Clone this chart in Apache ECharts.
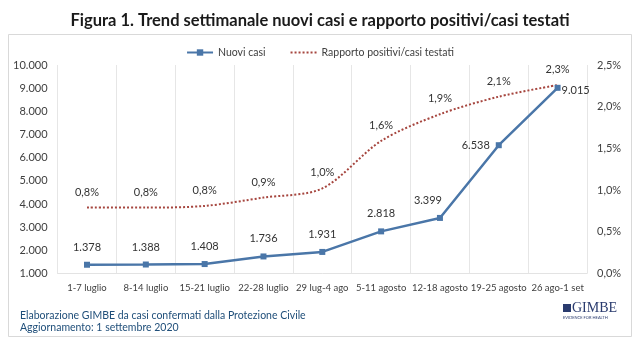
<!DOCTYPE html>
<html>
<head>
<meta charset="utf-8">
<script src="https://cdn.jsdelivr.net/npm/echarts@6/dist/echarts.min.js"></script>
<style>html,body{margin:0;padding:0;background:#fff;}#c{width:640px;height:360px;}</style>
</head>
<body>
<div id="c"></div>
<script>
var categories = ['1-7 luglio','8-14 luglio','15-21 luglio','22-28 luglio','29 lug-4 ago','5-11 agosto','12-18 agosto','19-25 agosto','26 ago-1 set'];
var nuoviCasi = [1378,1388,1408,1736,1931,2818,3399,6538,9015];
var rapporto = [0.79,0.79,0.81,0.91,1.02,1.59,1.91,2.12,2.26];
var leftTicks = [1000,10000,1000];
var rightTicks = [0,2.5,0.5];

var FONT = 'Lato, "Open Sans", sans-serif';
function itNum(v){ return String(v).replace(/\B(?=(\d{3})+(?!\d))/g,'.'); }
function pct(v){ return v.toFixed(1).replace('.',',') + '%'; }

var casiData = nuoviCasi.map(function(v,i){
  var d = {value:v};
  if(i===6) d.label = {position:'top', offset:[-12,0]};
  if(i===7) d.label = {position:'left', distance:6};
  if(i===8) d.label = {position:'right', distance:1, offset:[0,3]};
  return d;
});

var chart = echarts.init(document.getElementById('c'), null, {renderer:'canvas'});
chart.setOption({
  animation:false,
  backgroundColor:'#fff',
  title:{text:'Figura 1. Trend settimanale nuovi casi e rapporto positivi/casi testati', left:'center', top:7,
    textStyle:{fontFamily:FONT, fontSize:16.5, fontWeight:'bold', color:'#1a1a1a'}},
  graphic:[
    {type:'rect', z:-10, shape:{x:8.5,y:34.5,width:623,height:302}, style:{fill:'#fff', stroke:'#d9d9d9', lineWidth:1}},
    {type:'text', left:20, top:310, style:{text:'Elaborazione GIMBE da casi confermati dalla Protezione Civile', font:'10.5px '+FONT, fill:'#1f4e79'}},
    {type:'text', left:20, top:322, style:{text:'Aggiornamento: 1 settembre 2020', font:'10.5px '+FONT, fill:'#1f4e79'}},
    {type:'rect', shape:{x:563,y:304,width:8,height:8}, style:{fill:'#2a3b6e'}},
    {type:'text', left:572, top:301, style:{text:'GIMBE', font:'14px "Liberation Serif", serif', fill:'#2a3b6e'}},
    {type:'text', left:563, top:316, style:{text:'EVIDENCE FOR HEALTH', font:'4px '+FONT, fill:'#2a3b6e'}}
  ],
  legend:{top:42, left:'center', itemGap:24, itemWidth:26, itemHeight:8,
    textStyle:{fontFamily:FONT, fontSize:10.5, color:'#404040'},
    data:[{name:'Nuovi casi'},{name:'Rapporto positivi/casi testati'}]},
  grid:{left:57.6, right:53, top:65, bottom:86.5},
  xAxis:{type:'category', data:categories, boundaryGap:true,
    axisLine:{show:true, lineStyle:{color:'#e3e3e3'}},
    axisTick:{show:false},
    axisLabel:{fontFamily:FONT, fontSize:9.5, color:'#404040', margin:9, interval:0},
    splitLine:{show:true, lineStyle:{color:'#e6e6e6'}}},
  yAxis:[
    {type:'value', min:leftTicks[0], max:leftTicks[1], interval:leftTicks[2],
      axisLine:{show:false}, axisTick:{show:false}, splitLine:{show:false},
      axisLabel:{fontFamily:FONT, fontSize:11, color:'#404040', margin:10, formatter:function(v){return itNum(v);}}},
    {type:'value', min:rightTicks[0], max:rightTicks[1], interval:rightTicks[2],
      axisLine:{show:false}, axisTick:{show:false}, splitLine:{show:false},
      axisLabel:{fontFamily:FONT, fontSize:11, color:'#404040', margin:10, formatter:function(v){return pct(v);}}}
  ],
  series:[
    {name:'Nuovi casi', type:'line', yAxisIndex:0, data:casiData,
      symbol:'rect', symbolSize:6, color:'#4a76a8',
      lineStyle:{width:2.5, color:'#4a76a8'}, itemStyle:{color:'#4a76a8'},
      label:{show:true, position:'top', distance:9, fontFamily:FONT, fontSize:11, color:'#333',
        formatter:function(p){return itNum(p.value);}}},
    {name:'Rapporto positivi/casi testati', type:'line', yAxisIndex:1, data:rapporto,
      smooth:0.3, symbol:'circle', symbolSize:2, showSymbol:true,
      itemStyle:{color:'rgba(0,0,0,0)'},
      lineStyle:{width:2, type:'dotted', color:'#a6463f'},
      label:{show:true, position:'top', distance:9, fontFamily:FONT, fontSize:11, color:'#333',
        formatter:function(p){return pct(p.value);}}}
  ]
});
</script>
</body>
</html>
